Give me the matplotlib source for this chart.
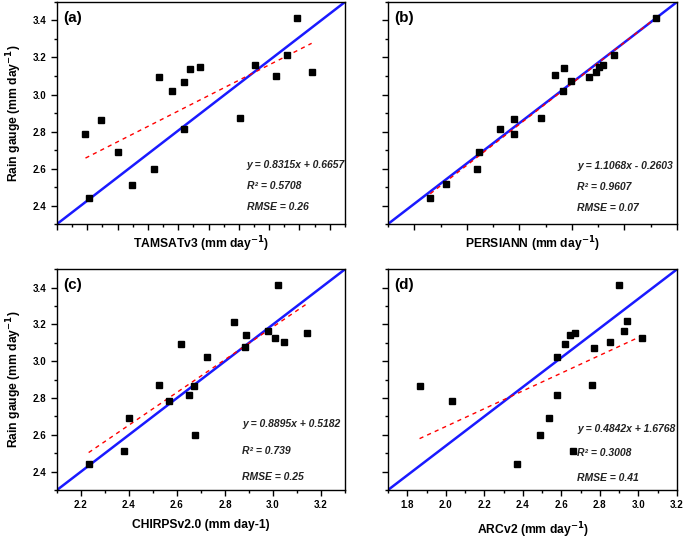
import numpy as np
import matplotlib
matplotlib.use("Agg")
import matplotlib.pyplot as plt
from matplotlib.ticker import MultipleLocator, NullFormatter

plt.rcParams['font.family'] = ['Liberation Sans', 'DejaVu Sans']
plt.rcParams['font.weight'] = 'bold'

# Rain gauge values (same 18 stations in every panel, y axis)
gauge_a = [2.786, 2.443, 2.863, 2.690, 2.512, 2.598, 3.092, 3.020, 3.070,
           2.814, 3.139, 3.150, 2.872, 3.160, 3.101, 3.216, 3.411, 3.121]
tamsat = [2.394, 2.407, 2.444, 2.502, 2.548, 2.619, 2.638, 2.681, 2.719,
          2.718, 2.738, 2.773, 2.905, 2.953, 3.023, 3.060, 3.091, 3.140]

gauge_b = [2.443, 2.514, 2.600, 2.690, 2.814, 2.865, 2.786, 2.874, 3.105,
           3.141, 3.020, 3.072, 3.094, 3.123, 3.151, 3.160, 3.216, 3.411]
persiann = [2.461, 2.522, 2.638, 2.646, 2.728, 2.780, 2.780, 2.881, 2.935,
            2.969, 2.966, 2.995, 3.067, 3.091, 3.103, 3.117, 3.160, 3.319]

gauge_c = [2.442, 2.511, 2.690, 2.873, 2.786, 3.096, 2.815, 2.866, 2.597,
           3.021, 3.215, 3.076, 3.141, 3.163, 3.125, 3.416, 3.107, 3.152]
chirps = [2.232, 2.378, 2.401, 2.526, 2.565, 2.618, 2.650, 2.669, 2.675,
          2.725, 2.839, 2.885, 2.889, 2.979, 3.007, 3.022, 3.047, 3.142]

gauge_d = [2.866, 2.786, 2.442, 2.597, 2.690, 2.817, 3.021, 3.094, 3.141,
           3.152, 2.511, 2.873, 3.074, 3.105, 3.416, 3.163, 3.217, 3.125]
arc = [1.864, 2.032, 2.372, 2.491, 2.536, 2.577, 2.577, 2.617, 2.646,
       2.669, 2.660, 2.759, 2.771, 2.854, 2.900, 2.925, 2.938, 3.018]

# regression statistics printed on each panel
slopes = [0.8315, 1.1068, 0.8895, 0.4842]
intercepts = [0.6657, -0.2603, 0.5182, 1.6768]
r2 = ["0.5708", "0.9607", "0.739", "0.3008"]
rmse = ["0.26", "0.07", "0.25", "0.41"]

panel_tags = ["(a)", "(b)", "(c)", "(d)"]
xlabels = ["TAMSATv3 (mm day$^{\\mathbf{-1}}$)", "PERSIANN (mm day$^{\\mathbf{-1}}$)",
           "CHIRPSv2.0 (mm day-1)", "ARCv2 (mm day$^{\\mathbf{-1}}$)"]
xlims = [(2.3, 3.25), (2.3, 3.4), (2.1, 3.3), (1.7, 3.2)]

xs = [tamsat, persiann, chirps, arc]
ys = [gauge_a, gauge_b, gauge_c, gauge_d]

fig = plt.figure(figsize=(6.85, 5.39), dpi=100)
rects = [[0.0832, 0.5844, 0.4204, 0.4119],
         [0.5664, 0.5844, 0.4219, 0.4119],
         [0.0832, 0.0909, 0.4204, 0.4095],
         [0.5664, 0.0909, 0.4219, 0.4095]]
# text positions (axes fraction) for equation, R2, RMSE
text_y = [(0.265, 0.170, 0.077), (0.262, 0.167, 0.074),
          (0.299, 0.178, 0.057), (0.275, 0.166, 0.053)]
text_x = [0.659, 0.654, 0.643, 0.654]
label_pads = [0, 0, 6, 7]

for i in range(4):
    ax = fig.add_axes(rects[i])
    x = np.array(xs[i])
    y = np.array(ys[i])
    x0, x1 = xlims[i]
    y0, y1 = 2.3, 3.5

    ax.plot([x0, x1], [y0, y1], color='#1a1aff', lw=1.8, zorder=2)
    xf = np.array([x.min(), x.max()])
    ax.plot(xf, slopes[i] * xf + intercepts[i], color='red', lw=1.0,
            ls=(0, (3, 3)), zorder=3)
    ax.plot(x, y, 's', color='black', ms=4, zorder=4)

    ax.set_xlim(x0, x1)
    ax.set_ylim(y0, y1)
    ax.yaxis.set_major_locator(MultipleLocator(0.2))
    ax.yaxis.set_minor_locator(MultipleLocator(0.1))
    if i < 2:
        ax.xaxis.set_major_locator(MultipleLocator(0.1 if i == 0 else 0.2))
        ax.xaxis.set_minor_locator(MultipleLocator(0.05 if i == 0 else 0.1))
        ax.xaxis.set_major_formatter(NullFormatter())
    else:
        ax.xaxis.set_major_locator(MultipleLocator(0.2))
        ax.xaxis.set_minor_locator(MultipleLocator(0.1))
    ax.set_xlabel(xlabels[i], fontsize=8.7, fontweight='bold',
                  labelpad=label_pads[i])
    if i % 2 == 1:
        ax.yaxis.set_major_formatter(NullFormatter())
    else:
        ax.set_ylabel("Rain gauge (mm day$^{\\mathbf{-1}}$)", fontsize=8.7,
                      fontweight='bold', labelpad=6)

    ax.tick_params(which='major', direction='out', length=4, width=1,
                   labelsize=7)
    ax.tick_params(which='minor', direction='out', length=2.5, width=1)
    for s in ax.spines.values():
        s.set_linewidth(1.0)

    ax.text(0.02, 0.93, panel_tags[i], transform=ax.transAxes,
            fontsize=11, fontweight='bold', va='center', ha='left')
    sign = '+' if intercepts[i] >= 0 else '-'
    eq = "y = %.4fx %s %.4f" % (slopes[i], sign, abs(intercepts[i]))
    ty = text_y[i]
    ax.text(text_x[i], ty[0], eq, transform=ax.transAxes, fontsize=7.5,
            fontweight='bold', style='italic', va='center', color='#222222')
    ax.text(text_x[i], ty[1], "R\u00b2 = " + r2[i], transform=ax.transAxes,
            fontsize=7.5, fontweight='bold', style='italic', va='center',
            color='#222222')
    ax.text(text_x[i], ty[2], "RMSE = " + rmse[i], transform=ax.transAxes,
            fontsize=7.5, fontweight='bold', style='italic', va='center',
            color='#222222')

fig.savefig("out.png", dpi=100)
